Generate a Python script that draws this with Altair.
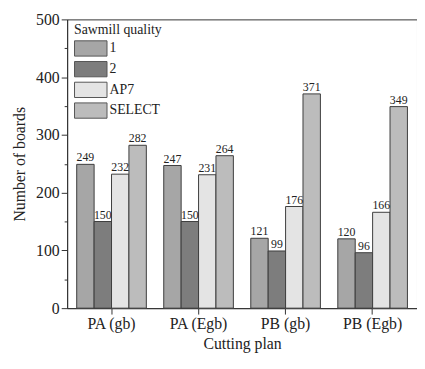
import altair as alt
import pandas as pd

plans = ["PA (gb)", "PA (Egb)", "PB (gb)", "PB (Egb)"]
qualities = ["1", "2", "AP7", "SELECT"]
q1 = [249, 247, 121, 120]
q2 = [150, 150, 99, 96]
ap7 = [232, 231, 176, 166]
select = [282, 264, 371, 349]
colors = ["#a6a6a6", "#7d7d7d", "#e4e4e4", "#bcbcbc"]
major_ticks = [0, 100, 200, 300, 400, 500]
minor_ticks = [50, 150, 250, 350, 450]

rows = []
for i, p in enumerate(plans):
    for q, vals in zip(qualities, [q1, q2, ap7, select]):
        rows.append({"plan": p, "quality": q, "boards": vals[i]})
df = pd.DataFrame(rows)

font = "Liberation Serif"

x = alt.X("plan:N", sort=plans,
          scale=alt.Scale(paddingInner=0.2, paddingOuter=0.11),
          axis=alt.Axis(title="Cutting plan", labelAngle=0, labelFontSize=16,
                        titleFontSize=16, labelFont=font, titleFont=font,
                        labelColor="#222", titleColor="#222", titleFontWeight="normal",
                        tickSize=6, tickColor="#333", domainColor="#333",
                        labelPadding=2, titlePadding=4))
xo = alt.XOffset("quality:N", sort=qualities,
                 scale=alt.Scale(paddingInner=0, paddingOuter=0))

color = alt.Color("quality:N", sort=qualities,
                  scale=alt.Scale(domain=qualities, range=colors),
                  legend=alt.Legend(title="Sawmill quality", orient="none",
                                    legendX=7, legendY=4,
                                    symbolType="M-1.0,-0.97H3.12V0.97H-1.0Z",
                                    symbolSize=256, symbolStrokeColor="#555",
                                    symbolStrokeWidth=1, symbolOpacity=1,
                                    labelFont=font, titleFont=font,
                                    labelFontSize=14, titleFontSize=14,
                                    titleFontWeight="normal", labelColor="#222",
                                    titleColor="#222", rowPadding=0,
                                    labelOffset=19, titlePadding=3))

bars = alt.Chart(df).mark_bar(stroke="#3c3c3c", strokeWidth=1).encode(
    x=x, xOffset=xo,
    y=alt.Y("boards:Q", scale=alt.Scale(domain=[0, 500], nice=False),
            axis=alt.Axis(values=major_ticks, title="Number of boards", grid=False,
                          labelFont=font, titleFont=font, labelFontSize=16,
                          titleFontSize=16, titleFontWeight="normal",
                          labelColor="#222", titleColor="#222", tickSize=6,
                          tickColor="#333", domainColor="#333", titlePadding=8,
                          orient="left")),
    color=color,
)

labels = alt.Chart(df).mark_text(dy=-7, font=font, fontSize=12, color="#222").encode(
    x=x, xOffset=xo,
    y=alt.Y("boards:Q", scale=alt.Scale(domain=[0, 500], nice=False),
            axis=alt.Axis(values=minor_ticks, labels=False, title=None, grid=False,
                          tickSize=3, tickColor="#333", domain=False, orient="left")),
    text="boards:Q",
)

chart = alt.layer(bars, labels).resolve_axis(y="independent").properties(
    width=355, height=293,
    padding={"left": 4, "top": 1, "right": 0, "bottom": 3},
).configure_view(stroke="#333", strokeWidth=1).configure_legend(
    titleFont=font, labelFont=font
)

chart.save("out.html", embed_options={"renderer": "svg", "actions": False})
